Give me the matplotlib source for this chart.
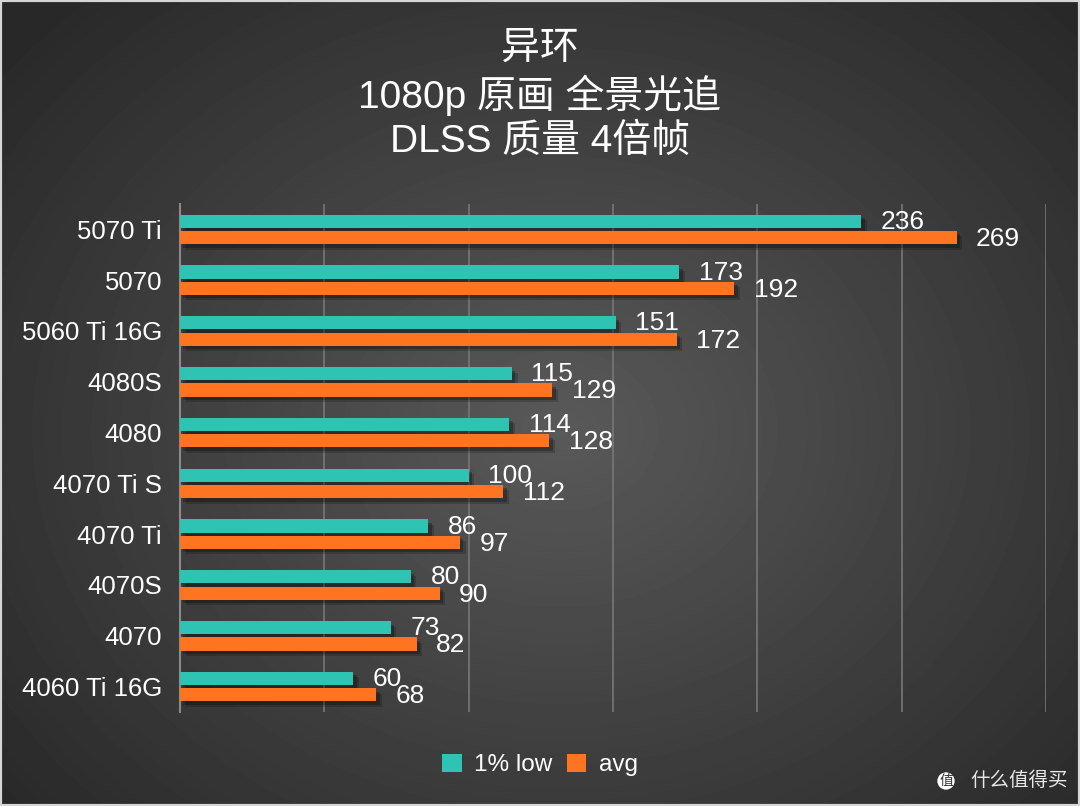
import numpy as np
import matplotlib.pyplot as plt
import matplotlib.patheffects as pe

plt.rcParams['font.family'] = ['Liberation Sans', 'Noto Sans CJK SC', 'DejaVu Sans']

# 数据
gpus = ['5070 Ti', '5070', '5060 Ti 16G', '4080S', '4080', '4070 Ti S',
        '4070 Ti', '4070S', '4070', '4060 Ti 16G']
low_1pct = [236, 173, 151, 115, 114, 100, 86, 80, 73, 60]
avg_fps = [269, 192, 172, 129, 128, 112, 97, 90, 82, 68]
series_names = ['1% low', 'avg']
title = '异环\n1080p 原画 全景光追\nDLSS 质量 4倍帧'

teal = '#2fc3b4'
orange = '#ff7420'

fig = plt.figure(figsize=(10.8, 8.06), dpi=100)

# 背景: 径向渐变
bg = fig.add_axes([0, 0, 1, 1], zorder=-10)
yy, xx = np.mgrid[0:806, 0:1080]
r = np.sqrt(((xx - 560) / 760.0) ** 2 + ((yy - 430) / 620.0) ** 2)
shade = np.clip(0.35 - 0.2 * r, 0.16, 0.35)
bg.imshow(shade, cmap='gray', vmin=0, vmax=1, aspect='auto', extent=[0, 1, 0, 1])
bg.axis('off')
# 细边框
bg.add_patch(plt.Rectangle((0, 0), 1, 1, transform=bg.transAxes, fill=False,
                           edgecolor='#d6d6d6', linewidth=3, clip_on=False))

ax = fig.add_axes([180 / 1080, 1 - 712 / 806, 866 / 1080, 508 / 806])
ax.set_facecolor('none')

y = np.arange(len(gpus))
h = 0.26
shadow = [pe.SimplePatchShadow(offset=(4, -4), shadow_rgbFace='black', alpha=0.18),
          pe.SimplePatchShadow(offset=(2.5, -2.5), shadow_rgbFace='black', alpha=0.25),
          pe.Normal()]
b1 = ax.barh(y - 0.16, low_1pct, height=h, color=teal, label=series_names[0], zorder=3)
b2 = ax.barh(y + 0.16, avg_fps, height=h, color=orange, label=series_names[1], zorder=3)
for b in list(b1) + list(b2):
    b.set_path_effects(shadow)

for yi, v in zip(y, low_1pct):
    ax.annotate(str(v), (v, yi - 0.15), xytext=(14, 0), textcoords='offset points',
                va='center', ha='left', color='white', fontsize=19)
for yi, v in zip(y, avg_fps):
    ax.annotate(str(v), (v, yi + 0.19), xytext=(14, 0), textcoords='offset points',
                va='center', ha='left', color='white', fontsize=19)

ax.set_xlim(0, 300)
ax.set_ylim(len(gpus) - 0.5, -0.5)
ax.set_xticks(np.arange(0, 301, 50))
ax.set_xticklabels([])
ax.tick_params(axis='x', length=0)
ax.tick_params(axis='y', length=0, pad=13, labelsize=18.5, labelcolor='white')
ax.set_yticks(y)
ax.set_yticklabels(gpus)
ax.grid(axis='x', color='#777777', linewidth=1.2, zorder=0)
for s in ['top', 'right', 'bottom']:
    ax.spines[s].set_visible(False)
ax.spines['left'].set_color('#8a8a8a')
ax.spines['left'].set_linewidth(1.5)

fig.text(0.5, 1 - 95 / 806, title, ha='center', va='center', color='white',
         fontsize=28, linespacing=1.25)

leg = fig.legend(handles=[b1, b2], loc='center', bbox_to_anchor=(0.5, 1 - 765 / 806),
                 ncol=2, frameon=False, fontsize=17.5, labelcolor='white',
                 handlelength=0.8, handleheight=0.8, handletextpad=0.5, columnspacing=0.6)
for hd in leg.legend_handles:
    hd.set_path_effects([])

# 水印
fig.text(0.989, 1 - 781 / 806, '什么值得买', ha='right', va='center', color='#e8e8e8',
         fontsize=14)
fig.text(946 / 1080, 1 - 781 / 806, '值', ha='center', va='center', color='#333333',
         fontsize=10, bbox=dict(boxstyle='circle,pad=0.12', fc='white', ec='none'))

fig.savefig('out.png', dpi=100)
